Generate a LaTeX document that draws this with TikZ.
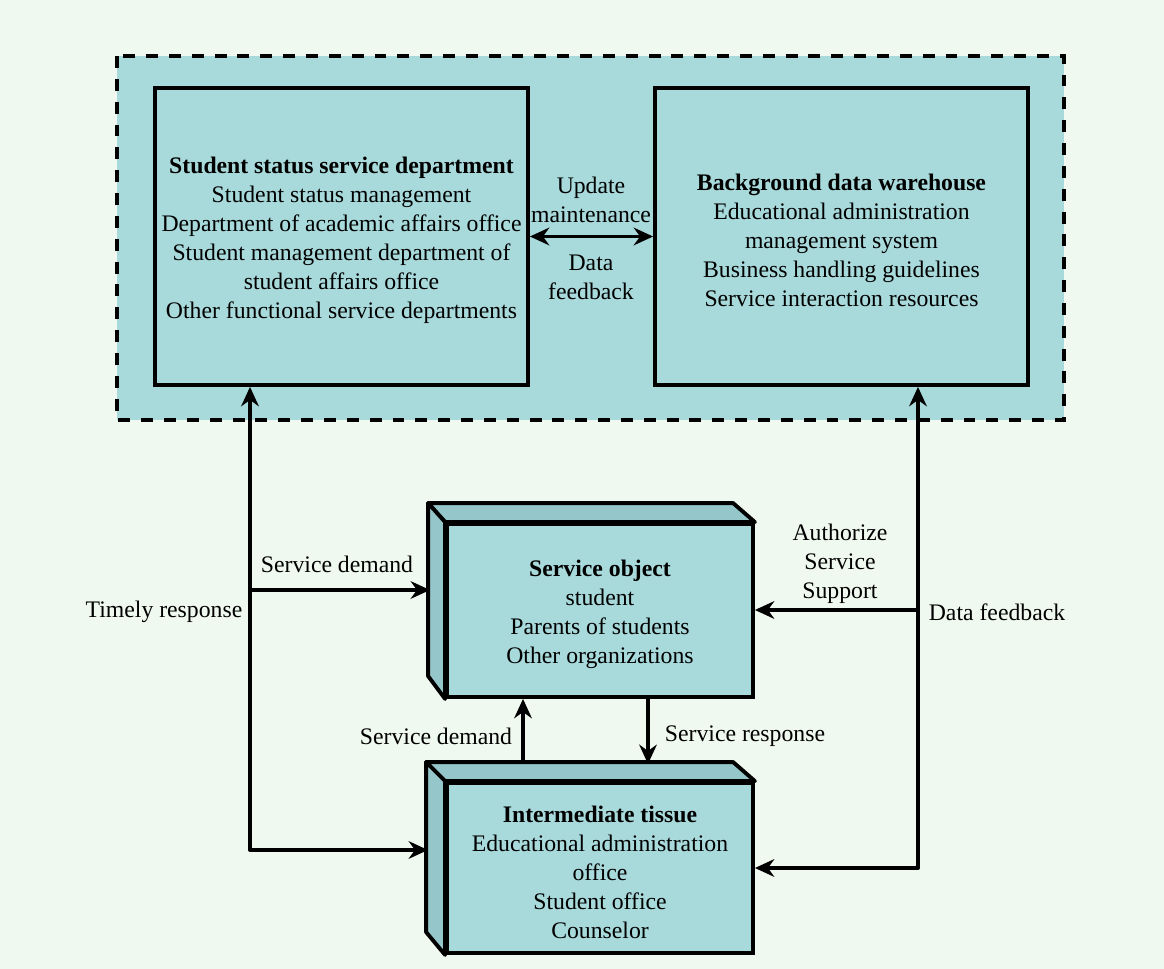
\documentclass[tikz,border=0pt]{standalone}
\usepackage{fontspec}
\setmainfont{Liberation Serif}
\usetikzlibrary{arrows.meta,positioning}
\definecolor{pagegreen}{HTML}{F0F9EF}
\definecolor{boxteal}{HTML}{A8D9DB}
\definecolor{sideteal}{HTML}{95C7CA}
\newcommand{\hautligne}{\rule{0pt}{14pt}}

\begin{document}
\begin{tikzpicture}[x=0.02cm,y=-0.02cm]

		\tikzset{bloc/.style={draw, line width=2.2pt, fill=boxteal, align=center, font=\fontsize{13.5}{16.5}\selectfont}}
		\tikzset{face/.style={draw, line width=2.2pt, fill=sideteal, line join=round}}
		\tikzset{fleche/.style={line width=2.2pt, -{Stealth[length=11pt,width=10pt]}}}
		\tikzset{doublefleche/.style={line width=2.2pt, {Stealth[length=11pt,width=10pt]}-{Stealth[length=11pt,width=10pt]}}}
		\tikzset{etiq/.style={align=center, inner sep=1pt, font=\fontsize{13.5}{16.5}\selectfont}}

		\fill[pagegreen] (0,0) rectangle (1164,969);
		\draw[line width=2.2pt, fill=boxteal, dash pattern=on 6.8pt off 6.2pt] (117,56) rectangle (1064,420);

		\node[bloc, minimum width=7.46cm, minimum height=5.94cm] (dep) at (341.5,236.5) {\hautligne\textbf{Student status service department}\\Student status management\\Department of academic affairs office\\Student management department of\\student affairs office\\Other functional service departments};
		\node[bloc, minimum width=7.46cm, minimum height=5.94cm] (wh) at (841.5,236.5) {\hautligne\textbf{Background data warehouse}\\Educational administration\\management system\\Business handling guidelines\\Service interaction resources};

		\node[bloc, minimum width=6.12cm, minimum height=3.46cm] (so) at (600,610.5) {\hautligne\textbf{Service object}\\student\\Parents of students\\Other organizations};
		\filldraw[face] (so.north west) -- ++(-17,-19) -- ++(305,0) -- (so.north east) -- cycle;
		\filldraw[face] (so.north west) -- ++(-17,-19) -- ++(0,173) -- (so.south west) -- cycle;

		\node[bloc, minimum width=6.12cm, minimum height=3.4cm] (inter) at (600,868) {\hautligne\textbf{Intermediate tissue}\\Educational administration\\office\\Student office\\Counselor};
		\filldraw[face] (inter.north west) -- ++(-19,-19) -- ++(307,0) -- (inter.north east) -- cycle;
		\filldraw[face] (inter.north west) -- ++(-19,-19) -- ++(0,170) -- (inter.south west) -- cycle;

		\coordinate (lj) at (250,850);
		\coordinate (lb) at (250,590);
		\coordinate (rj) at (918,868);
		\coordinate (rb) at (918,610);
		\coordinate (soside) at (430,590);
		\coordinate (interside) at (428,850);
		\coordinate (iup) at (523,764);
		\coordinate (idn) at (648,764);

		\draw[doublefleche] (dep.east) -- (wh.west);
		\draw[doublefleche, line join=round] (dep.south -| lj) -- (lj) -- (interside);
		\draw[fleche] (lb) -- (soside);
		\draw[doublefleche, line join=round] (wh.south -| rj) -- (rj) -- (inter.east |- rj);
		\draw[fleche] (rb) -- (so.east |- rb);
		\draw[fleche] (iup) -- (so.south -| iup);
		\draw[fleche] (so.south -| idn) -- (idn);

		\node[etiq] (upd) at (591,200) {Update\\maintenance};
		\node[etiq] (dfb) at (591,277) {Data\\feedback};
		\node[etiq] (sdemand) at (337,564) {Service demand};
		\node[etiq] (timely) at (164,612) {Timely response};
		\node[etiq] (auth) at (840,564) {Authorize\\Service\\Support};
		\node[etiq] (rfeed) at (997,612) {Data feedback};
		\node[etiq] (idemand) at (436,736) {Service demand};
		\node[etiq] (iresp) at (745,736) {Service response};

\end{tikzpicture}
\end{document}
